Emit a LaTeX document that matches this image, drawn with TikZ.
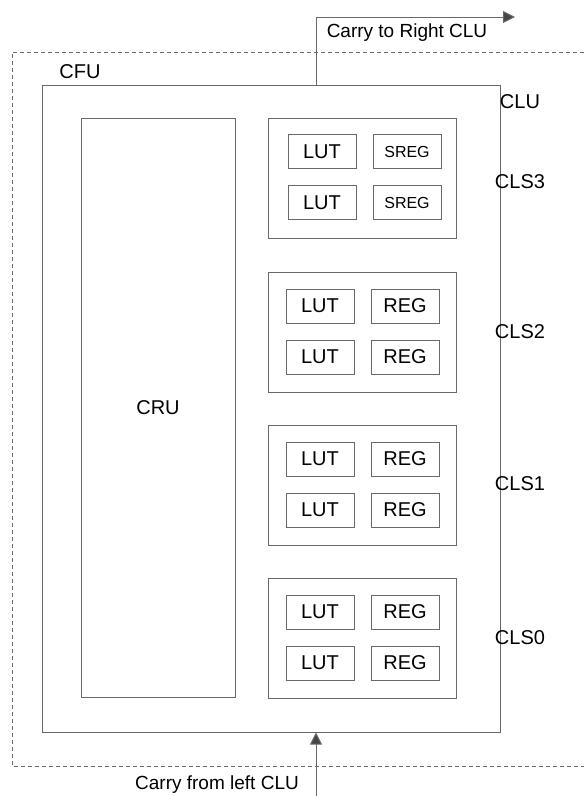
\documentclass[tikz,border=0pt]{standalone}
\usepackage{fontspec}
\setmainfont{Liberation Sans}
\usepackage{tikz}
\usetikzlibrary{arrows.meta,positioning}
\definecolor{cluline}{RGB}{105,105,105}
\definecolor{clutip}{RGB}{70,70,70}
\tikzstyle{block} = [rectangle, draw=cluline, line width=1pt, inner sep=0pt, font=\fontsize{20}{24}\selectfont]
\tikzstyle{cell} = [block, minimum width=68pt, minimum height=34pt]
\tikzstyle{slice} = [block, minimum width=188pt, minimum height=120pt]
\tikzstyle{lbl} = [font=\fontsize{20}{24}\selectfont, inner sep=0pt]
\tikzstyle{arrow} = [draw=cluline, line width=1pt, -{Triangle[length=12pt,width=12pt,fill=clutip]}]

\begin{document}
\begin{tikzpicture}[x=1pt,y=-1pt]
\useasboundingbox (0,0) rectangle (584,796);

% CFU (dashed, open on the right)
\draw[cluline, line width=1pt, dash pattern=on 4pt off 3pt] (584,52) -- (12,52) -- (12,766) -- (584,766);
\node[lbl] (cfu) at (80,72) {CFU};

% CLU
\node (clu) [block, minimum width=458pt, minimum height=647pt] at (271,408.5) {};
\node[lbl] (clulbl) at (520,102) {CLU};

% CRU
\node (cru) [block, minimum width=154pt, minimum height=579pt] at (158,407.5) {CRU};

% Slices
\node (cls3) [slice] at (362,178.5) {};
\node (cls2) [slice] at (362,332) {};
\node (cls1) [slice] at (362,485) {};
\node (cls0) [slice] at (362,638) {};

\node[lbl] (cls3lbl) at (520,182) {CLS3};
\node[lbl] (cls2lbl) at (520,332) {CLS2};
\node[lbl] (cls1lbl) at (520,484) {CLS1};
\node[lbl] (cls0lbl) at (520,638) {CLS0};

% CLS3 cells
\node (lut3a) [cell] at ([xshift=-40pt,yshift=27pt]cls3.center) {LUT};
\node (lut3b) [cell] at ([xshift=-40pt,yshift=-24pt]cls3.center) {LUT};
\node (reg3a) [cell, font=\fontsize{16}{19}\selectfont] at ([xshift=45pt,yshift=27pt]cls3.center) {SREG};
\node (reg3b) [cell, font=\fontsize{16}{19}\selectfont] at ([xshift=45pt,yshift=-24pt]cls3.center) {SREG};

% CLS2 cells
\node (lut2a) [cell] at ([xshift=-42pt,yshift=26pt]cls2.center) {LUT};
\node (lut2b) [cell] at ([xshift=-42pt,yshift=-25pt]cls2.center) {LUT};
\node (reg2a) [cell] at ([xshift=43pt,yshift=26pt]cls2.center) {REG};
\node (reg2b) [cell] at ([xshift=43pt,yshift=-25pt]cls2.center) {REG};

% CLS1 cells
\node (lut1a) [cell] at ([xshift=-42pt,yshift=26pt]cls1.center) {LUT};
\node (lut1b) [cell] at ([xshift=-42pt,yshift=-25pt]cls1.center) {LUT};
\node (reg1a) [cell] at ([xshift=43pt,yshift=26pt]cls1.center) {REG};
\node (reg1b) [cell] at ([xshift=43pt,yshift=-25pt]cls1.center) {REG};

% CLS0 cells
\node (lut0a) [cell] at ([xshift=-42pt,yshift=26pt]cls0.center) {LUT};
\node (lut0b) [cell] at ([xshift=-42pt,yshift=-25pt]cls0.center) {LUT};
\node (reg0a) [cell] at ([xshift=43pt,yshift=26pt]cls0.center) {REG};
\node (reg0b) [cell] at ([xshift=43pt,yshift=-25pt]cls0.center) {REG};

% Carry chain
\coordinate (ctop) at (316,17);
\coordinate (cright) at (515,17);
\coordinate (cbot) at (316,796);
\draw[arrow] (clu.north -| ctop) -- (ctop) -- (cright);
\node[lbl, font=\fontsize{19}{23}\selectfont] (carryout) at (407,33) {Carry to Right CLU};
\draw[arrow] (cbot) -- (cbot |- clu.south);
\node[lbl, font=\fontsize{19}{23}\selectfont] (carryin) at (217,785) {Carry from left CLU};
\end{tikzpicture}
\end{document}
